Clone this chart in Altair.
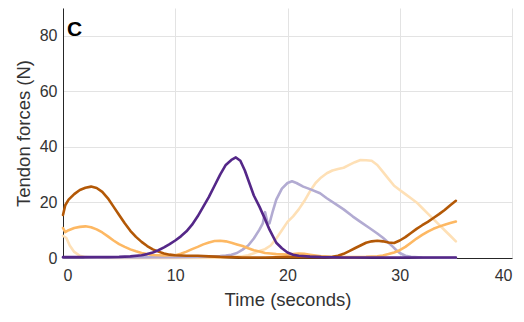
import altair as alt
import pandas as pd

# Series: dark brown
t1 = [0, 0.2, 0.5, 1, 1.5, 2, 2.5, 3, 3.5, 4, 4.5, 5, 5.5, 6, 6.5, 7, 7.5, 8, 8.5, 9, 9.5, 10, 11, 12, 13, 14, 15, 16, 18, 20, 22, 23, 24, 24.5, 25, 25.5, 26, 26.5, 27, 27.5, 28, 28.5, 29, 29.5, 30, 30.5, 31, 31.5, 32, 32.5, 33, 33.5, 34, 34.5, 35]
v1 = [15.5, 19, 21, 23, 24.5, 25.3, 25.7, 25.2, 23.8, 21.5, 18.5, 15.5, 12.5, 9.8, 7.6, 5.8, 4.3, 3.1, 2.3, 1.6, 1.2, 1.0, 0.8, 0.8, 0.6, 0.4, 0.3, 0.2, 0.2, 0.3, 0.3, 0.3, 0.4, 0.8, 1.5, 2.5, 3.5, 4.5, 5.5, 6.0, 6.2, 6.0, 5.6, 5.4, 6.3, 7.5, 9.0, 10.5, 11.8, 13.0, 14.4, 15.8, 17.3, 19.0, 20.6]

# Series: light orange
t2 = [0, 0.2, 0.5, 1, 1.5, 2, 2.5, 3, 3.5, 4, 4.5, 5, 5.5, 6, 6.5, 7, 7.5, 8, 9, 10, 10.5, 11, 11.5, 12, 12.5, 13, 13.5, 14, 14.5, 15, 15.5, 16, 16.5, 17, 17.5, 18, 18.5, 19, 20, 20.5, 21, 21.5, 22, 23, 24, 25, 26, 27, 28, 28.5, 29, 29.5, 30, 30.5, 31, 31.5, 32, 32.5, 33, 33.5, 34, 34.5, 35]
v2 = [10.8, 9.3, 10, 10.8, 11.2, 11.4, 11.1, 10.3, 9.2, 7.8, 6.3, 5.0, 4.0, 3.1, 2.4, 1.8, 1.4, 1.1, 0.9, 1.0, 1.5, 2.3, 3.2, 4.0, 4.9, 5.6, 6.1, 6.2, 6.0, 5.5, 4.9, 4.3, 3.5, 2.8, 2.3, 1.8, 1.6, 1.4, 1.2, 1.4, 1.6, 1.5, 1.2, 0.6, 0.3, 0.3, 0.3, 0.4, 0.6, 0.9, 1.4, 2.0, 2.8, 4.0, 5.5, 7.0, 8.3, 9.5, 10.5, 11.3, 12.0, 12.6, 13.1]

# Series: pale peach
t3 = [0, 0.3, 0.6, 1, 1.5, 2, 3, 5, 10, 14, 15, 16, 16.5, 17, 17.5, 18, 18.5, 19, 19.5, 20, 20.5, 21, 21.5, 22, 22.5, 23, 23.5, 24, 24.5, 25, 25.5, 26, 26.5, 27, 27.5, 28, 28.5, 29, 29.5, 30, 30.5, 31, 31.5, 32, 32.5, 33, 33.5, 34, 34.5, 35]
v3 = [8, 7.2, 4.5, 2.2, 0.8, 0.3, 0.1, 0, 0, 0.1, 0.3, 0.6, 1, 1.7, 2.5, 3.2, 4.5, 7, 10, 13, 15, 17.5, 20.5, 24, 27, 29, 30.5, 31.5, 32, 32.5, 33.5, 34.5, 35.3, 35.2, 35, 33.5, 31, 28.5, 26, 24.5, 23, 21.5, 20, 18, 16, 14, 12, 10, 8, 6]

# Series: light purple
t4 = [0, 5, 10, 13, 14, 14.5, 15, 15.5, 16, 16.5, 17, 17.5, 17.8, 18, 18.2, 18.4, 18.7, 19, 19.5, 20, 20.4, 20.8, 21.4, 22, 22.9, 23.5, 24.4, 25, 25.8, 26.5, 27.3, 28, 28.5, 29, 29.4, 29.7, 30, 30.5, 31, 32, 35]
v4 = [0.2, 0.2, 0.3, 0.5, 0.7, 0.9, 1.2, 1.8, 3.0, 4.5, 7.0, 10.2, 12.5, 16.5, 13, 12.5, 17, 21, 25, 27, 27.6, 27, 25.7, 24.8, 23.3, 21.5, 19.1, 17.5, 15, 13, 10.8, 8.8, 7.3, 5.5, 4, 2.8, 1.8, 0.8, 0.4, 0.2, 0.1]

# Series: dark purple
t5 = [0, 2, 4, 5, 6, 7, 7.5, 8, 8.5, 9, 9.5, 10, 10.5, 11, 11.5, 12, 12.5, 13, 13.5, 14, 14.5, 15, 15.4, 15.8, 16.2, 16.6, 17, 17.5, 18, 18.4, 19, 19.5, 20, 20.5, 21, 22, 23, 25, 35]
v5 = [0.3, 0.3, 0.3, 0.4, 0.6, 1.0, 1.4, 2.0, 2.8, 3.8, 5.0, 6.3, 7.8, 9.6, 12, 15, 18.5, 22, 26, 30, 33.5, 35.3, 36.2, 35, 31.5, 27, 22.5, 18.5, 14, 10.2, 5.5, 3.5, 2.0, 1.2, 0.8, 0.5, 0.3, 0.2, 0.2]

series = [
    (t3, v3, "#fee0b6"),
    (t4, v4, "#b2abd2"),
    (t2, v2, "#fdb863"),
    (t1, v1, "#b35806"),
    (t5, v5, "#542788"),
]

FONT = "Liberation Sans"

x_axis = alt.Axis(values=[0, 10, 20, 30, 40], title="Time (seconds)", grid=True,
                  labelPadding=9, titlePadding=7)
y_axis = alt.Axis(values=[0, 20, 40, 60, 80], title="Tendon forces (N)", grid=True,
                  labelPadding=6, titlePadding=6)

layers = []
for t, v, col in series:
    df = pd.DataFrame({"t": t, "v": v})
    layers.append(
        alt.Chart(df).mark_line(color=col, strokeWidth=2.6, strokeJoin="round", strokeCap="round")
        .encode(
            x=alt.X("t:Q", scale=alt.Scale(domain=[0, 40], nice=False), axis=x_axis),
            y=alt.Y("v:Q", scale=alt.Scale(domain=[0, 90], nice=False), axis=y_axis),
        )
    )

label = alt.Chart(pd.DataFrame({"s": ["C"]})).mark_text(
    font=FONT, fontSize=21, fontWeight="bold", color="black", align="left", baseline="alphabetic"
).encode(x=alt.value(4), y=alt.value(28), text="s:N")

chart = alt.layer(*layers, label).properties(
    width=449, height=250,
    autosize=alt.AutoSizeParams(type="none"),
    padding={"left": 55, "top": 0, "right": 4, "bottom": 56},
).configure_view(stroke=None).configure_axis(
    domainColor="#262626", domainWidth=1, tickSize=0,
    gridColor="#e3e3e3", gridWidth=1,
    labelFont=FONT, labelFontSize=16, labelColor="#333333",
    titleFont=FONT, titleFontSize=18.5, titleColor="#333333", titleFontWeight="normal",
)

chart.save("out.html", embed_options={"renderer": "svg", "actions": False})
